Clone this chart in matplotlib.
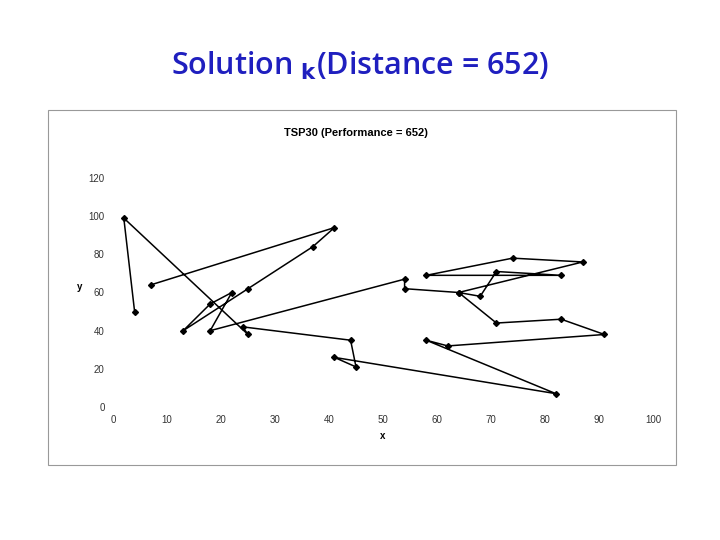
import matplotlib
matplotlib.use("Agg")
import matplotlib.pyplot as plt
from matplotlib.patches import Rectangle

x = [4, 2, 25, 24, 44, 45, 41, 82, 58, 62, 91, 83, 71, 64, 68, 71, 83, 58, 74, 87, 64, 54, 54, 18, 22, 18, 13, 25, 37, 41, 7]
y = [50, 99, 38, 42, 35, 21, 26, 7, 35, 32, 38, 46, 44, 60, 58, 71, 69, 69, 78, 76, 60, 62, 67, 40, 60, 54, 40, 62, 84, 94, 64]
xticks = [0, 10, 20, 30, 40, 50, 60, 70, 80, 90, 100]
yticks = [0, 20, 40, 60, 80, 100, 120]

fig = plt.figure(figsize=(7.2, 5.4), dpi=100)
fig.text(0.5, 0.877, r"Solution $_{\mathbf{k}}$(Distance = 652)", ha="center", va="center",
         fontsize=22, fontweight="semibold", color="#1F1FBF", family="Open Sans")
fig.patches.append(Rectangle((48/720, 1-465/540), 628/720, 355/540, transform=fig.transFigure,
                             fill=False, edgecolor="#999999", lw=0.8))
fig.text(356/720, 1-133/540, "TSP30 (Performance = 652)", ha="center", va="center",
         fontsize=8, fontweight="bold", family="Liberation Sans")
ax = fig.add_axes([113/720, 1-407/540, 540/720, 229/540])
ax.plot(x, y, color="black", lw=1.1, marker="D", ms=3)
ax.set_xlim(0, 100)
ax.set_ylim(0, 120)
ax.set_xticks(xticks)
ax.set_yticks(yticks)
for s in ax.spines.values():
    s.set_visible(False)
ax.tick_params(length=0, labelsize=7, colors="#333333", pad=6)
for t in ax.get_xticklabels() + ax.get_yticklabels():
    t.set_family("Liberation Sans")
ax.set_xlabel("x", fontsize=7, fontweight="bold", family="Liberation Sans", labelpad=4)
ax.set_ylabel("y", fontsize=7, fontweight="bold", family="Liberation Sans", rotation=0, labelpad=0)
ax.yaxis.set_label_coords(-33/540, 0.5)
fig.savefig("out.png", dpi=100)
